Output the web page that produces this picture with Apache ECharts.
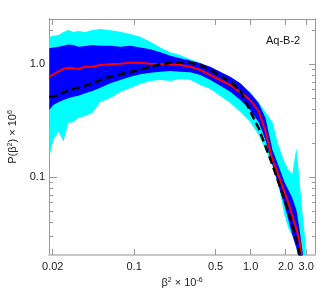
<!DOCTYPE html>
<html><head><meta charset="utf-8">
<script src="https://cdn.jsdelivr.net/npm/echarts@6/dist/echarts.min.js"></script>
<style>html,body{margin:0;padding:0;background:#fff}#c{width:332px;height:295px}</style>
</head><body><div id="c"></div>
<script>
const xVals = [0.0187,0.0202,0.0224,0.0247,0.0272,0.0301,0.0332,0.0381,0.0438,0.0513,0.0625,0.0761,0.0927,0.113,0.138,0.168,0.205,0.249,0.304,0.370,0.451,0.549,0.669,0.816,0.99,1.17,1.34,1.54,1.73,1.95,2.11,2.28,2.47,2.62,2.78,2.95];
const cyanUpper = [1.75,1.79,1.82,1.93,2.01,1.93,1.97,1.93,2.01,2.05,2.00,1.94,1.85,1.75,1.58,1.41,1.28,1.21,1.11,1.03,0.927,0.838,0.772,0.669,0.569,0.464,0.378,0.309,0.193,0.137,0.116,0.107,0.182,0.0987,0.0493,0.0279];
const cyanLower = [0.151,0.214,0.253,0.207,0.302,0.309,0.335,0.349,0.371,0.464,0.503,0.569,0.617,0.669,0.712,0.726,0.712,0.741,0.726,0.656,0.604,0.524,0.454,0.378,0.309,0.237,0.174,0.128,0.0855,0.0464,0.0356,0.0302,0.0237,0.0178,0.0137,0.0101];
const blueUpper = [1.39,1.41,1.43,1.46,1.50,1.48,1.43,1.45,1.48,1.46,1.46,1.43,1.46,1.41,1.36,1.28,1.19,1.13,1.08,1.02,0.952,0.860,0.777,0.679,0.557,0.454,0.335,0.174,0.128,0.0908,0.0772,0.0656,0.0514,0.0356,0.0227,0.0137];
const blueLower = [0.394,0.436,0.461,0.483,0.500,0.517,0.527,0.554,0.580,0.621,0.679,0.726,0.777,0.816,0.843,0.860,0.872,0.860,0.850,0.804,0.726,0.647,0.572,0.483,0.394,0.309,0.214,0.128,0.0855,0.0569,0.0419,0.0309,0.0237,0.0178,0.0137,0.0101];
const medianVals = [0.777,0.816,0.860,0.909,0.933,0.922,0.909,0.952,0.952,0.986,1.00,1.01,1.03,1.03,1.01,1.00,1.00,0.986,0.952,0.890,0.804,0.726,0.656,0.565,0.483,0.386,0.257,0.142,0.105,0.0741,0.0593,0.0455,0.0349,0.0279,0.0178,0.0101];
const modelVals = [0.517,0.517,0.535,0.565,0.580,0.604,0.621,0.647,0.679,0.726,0.777,0.816,0.850,0.903,0.952,1.00,1.03,1.04,1.03,0.986,0.890,0.793,0.702,0.580,0.386,0.273,0.189,0.128,0.0908,0.0630,0.0493,0.0378,0.0279,0.0218,0.0151,0.0101];
const xTickValues = [0.02,0.1,0.5,1,2,3];
const xTickLabels = ['0.02','0.1','0.5','1.0','2.0','3.0'];
const yTickValues = [0.1,1];
const yTickLabels = ['0.1','1.0'];
const yMinorTicks = [0.03,0.04,0.05,0.06,0.07,0.08,0.09,0.2,0.3,0.4,0.5,0.6,0.7,0.8,0.9,2];
const panelLabel = 'Aq-B-2';

const X_MIN = 0.01858, X_MAX = 3.568, Y_MIN = 0.02053, Y_MAX = 2.517;
const AX = '#9a9a9a';
const FONT = 'Liberation Sans, Arial, sans-serif';
function lab(vals, labels){ return v => { let b=0,bd=1e9; vals.forEach((t,i)=>{const d=Math.abs(Math.log(t)-Math.log(v)); if(d<bd){bd=d;b=i;}}); return labels[b]; }; }
function pairs(arr){ return xVals.map((x,i)=>[x,arr[i]]); }
const rich = {n:{fontSize:11, color:'#222', fontFamily:FONT, lineHeight:13}, s:{fontSize:7, color:'#222', fontFamily:FONT, verticalAlign:'top', lineHeight:13}};

function xAx(pos, show){
  return {type:'log', position:pos, min:X_MIN, max:X_MAX, gridIndex:0,
    axisLine:{show:true, lineStyle:{color: pos==='bottom' ? '#c8c8c8' : AX, width: pos==='bottom'?2:1}},
    axisTick:{show:true, inside:true, length:6, customValues:xTickValues, lineStyle:{color:AX}},
    axisLabel:{show:show, customValues:xTickValues, formatter:lab(xTickValues,xTickLabels), color:'#222', fontSize:11, fontFamily:FONT, margin:6},
    splitLine:{show:false},
    name: show ? '{n|β}{s|2}{n| × 10}{s|-6}' : '', nameLocation:'middle', nameGap:16,
    nameTextStyle:{rich:rich}
  };
}
function yAx(pos, ticks, len, show){
  return {type:'log', position:pos, min:Y_MIN, max:Y_MAX, gridIndex:0,
    axisLine:{show:true, lineStyle:{color:AX, width:1}},
    axisTick:{show:true, inside:true, length:len, customValues:ticks, lineStyle:{color:AX}},
    axisLabel:{show:show, customValues:yTickValues, formatter:lab(yTickValues,yTickLabels), color:'#222', fontSize:11, fontFamily:FONT, margin:4},
    splitLine:{show:false},
    name: show ? '{n|P(β}{s|2}{n|) × 10}{s|6}' : '', nameLocation:'middle', nameGap:26, nameRotate:90,
    nameTextStyle:{rich:rich}
  };
}
function band(lo, hi, color){
  return {type:'custom', coordinateSystem:'cartesian2d', animation:false, silent:true,
    data: xVals.map((x,i)=>[x, lo[i], hi[i]]),
    encode:{x:0, y:[1,2]},
    renderItem:function(params, api){
      if (params.dataIndex !== 0) return null;
      const pts = [];
      for (let i=0;i<xVals.length;i++) pts.push(api.coord([xVals[i], hi[i]]));
      for (let i=xVals.length-1;i>=0;i--) pts.push(api.coord([xVals[i], lo[i]]));
      const cs = params.coordSys;
      return {type:'polygon', shape:{points:pts}, style:{fill:color, stroke:null},
        clipPath:{type:'rect', shape:{x:cs.x, y:cs.y, width:cs.width, height:cs.height}}};
    }
  };
}
const noSym = {showSymbol:false, symbol:'none', animation:false, clip:true};
const chart = echarts.init(document.getElementById('c'), null, {renderer:'canvas'});
chart.setOption({
  animation:false,
  title:{text:panelLabel, left:266, top:35, padding:0, textStyle:{fontSize:11, fontWeight:'normal', color:'#111', fontFamily:FONT}},
  grid:{left:49, right:17, top:19, bottom:40, containLabel:false, outerBoundsMode:'none'},
  xAxis:[xAx('bottom',true), xAx('top',false)],
  yAxis:[yAx('left',yTickValues,8,true), yAx('left',yMinorTicks,4,false), yAx('right',yTickValues,6,false), yAx('right',yMinorTicks,3,false)],
  series:[
    band(cyanLower, cyanUpper, '#00ffff'),
    band(blueLower, blueUpper, '#0000ff'),
    Object.assign({type:'line', name:'median', data:pairs(medianVals), lineStyle:{color:'#ff0000', width:2}}, noSym),
    Object.assign({type:'line', name:'model', data:pairs(modelVals), lineStyle:{color:'#000', width:2.5, type:[8,4]}}, noSym)
  ]
});
</script></body></html>
